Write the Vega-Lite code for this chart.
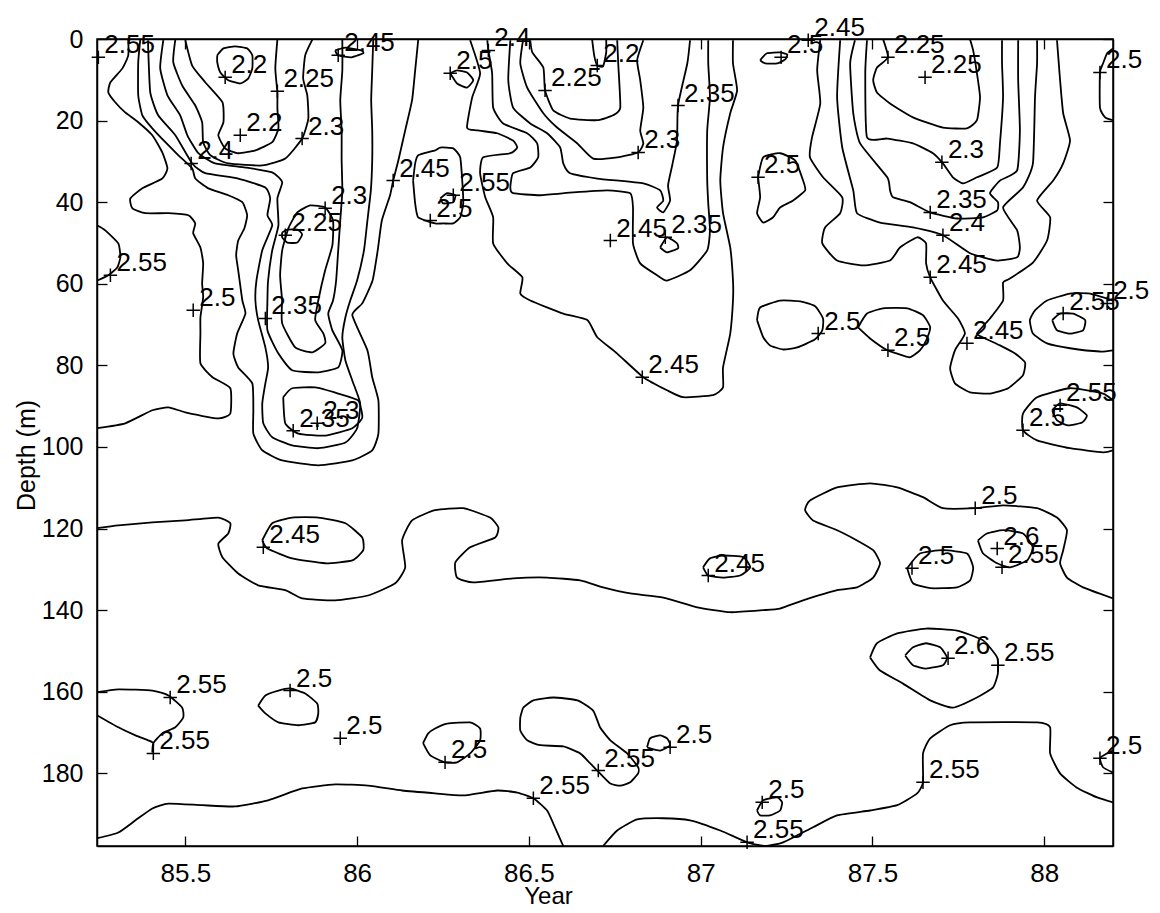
{
"$schema": "https://vega.github.io/schema/vega-lite/v6.json",
"autosize": "none",
"width": 1016, "height": 807,
"padding": {"left": 97, "top": 39, "right": 47, "bottom": 67},
"background": "white",
"config": {"view": {"stroke": "black", "strokeWidth": 1.5}, "font": "Liberation Sans"},
"datasets": {
"lines": [
{"c":"a1","x":85.334,"d":0.1},{"c":"a1","x":85.334,"d":4.0},{"c":"a1","x":85.317,"d":7.2},{"c":"a1","x":85.282,"d":10.6},{"c":"a1","x":85.276,"d":13.1},{"c":"a1","x":85.296,"d":15.5},{"c":"a1","x":85.325,"d":18.0},{"c":"a1","x":85.363,"d":20.4},{"c":"a1","x":85.404,"d":23.6},{"c":"a1","x":85.433,"d":27.8},{"c":"a1","x":85.448,"d":31.7},{"c":"a1","x":85.433,"d":34.2},{"c":"a1","x":85.375,"d":36.6},{"c":"a1","x":85.340,"d":39.1},{"c":"a1","x":85.346,"d":41.5},{"c":"a1","x":85.384,"d":42.7},{"c":"a1","x":85.451,"d":42.7},{"c":"a1","x":85.509,"d":43.2},{"c":"a1","x":85.529,"d":45.2},{"c":"a1","x":85.523,"d":47.6},{"c":"a1","x":85.544,"d":51.1},{"c":"a1","x":85.552,"d":55.0},{"c":"a1","x":85.549,"d":59.9},{"c":"a1","x":85.552,"d":63.3},{"c":"a1","x":85.544,"d":68.2},{"c":"a1","x":85.544,"d":72.2},{"c":"a1","x":85.544,"d":79.5},{"c":"a1","x":85.579,"d":82.9},{"c":"a1","x":85.631,"d":85.6},{"c":"a1","x":85.631,"d":91.8},{"c":"a1","x":85.596,"d":93.0},{"c":"a1","x":85.500,"d":91.5},{"c":"a1","x":85.451,"d":90.3},{"c":"a1","x":85.404,"d":91.0},{"c":"a1","x":85.325,"d":94.2},{"c":"a1","x":85.244,"d":95.4},
{"c":"a2","x":85.244,"d":45.7},{"c":"a2","x":85.267,"d":46.9},{"c":"a2","x":85.305,"d":50.1},{"c":"a2","x":85.311,"d":53.5},{"c":"a2","x":85.302,"d":56.0},{"c":"a2","x":85.276,"d":57.9},{"c":"a2","x":85.244,"d":59.2},
{"c":"a3","x":85.593,"d":4.0},{"c":"a3","x":85.611,"d":2.3},{"c":"a3","x":85.645,"d":1.8},{"c":"a3","x":85.680,"d":2.3},{"c":"a3","x":85.695,"d":4.0},{"c":"a3","x":85.695,"d":7.2},{"c":"a3","x":85.683,"d":9.7},{"c":"a3","x":85.660,"d":10.9},{"c":"a3","x":85.625,"d":10.1},{"c":"a3","x":85.602,"d":8.2},{"c":"a3","x":85.593,"d":5.7},{"c":"a3","x":85.593,"d":4.0},
{"c":"a4","x":85.500,"d":0.3},{"c":"a4","x":85.520,"d":6.5},{"c":"a4","x":85.558,"d":10.6},{"c":"a4","x":85.608,"d":15.5},{"c":"a4","x":85.611,"d":20.4},{"c":"a4","x":85.596,"d":23.6},{"c":"a4","x":85.616,"d":26.8},{"c":"a4","x":85.654,"d":28.0},{"c":"a4","x":85.704,"d":27.3},{"c":"a4","x":85.753,"d":25.3},{"c":"a4","x":85.771,"d":21.9},{"c":"a4","x":85.768,"d":17.0},{"c":"a4","x":85.768,"d":13.1},{"c":"a4","x":85.762,"d":7.2},{"c":"a4","x":85.768,"d":0.1},
{"c":"a5","x":85.471,"d":0.1},{"c":"a5","x":85.465,"d":5.7},{"c":"a5","x":85.491,"d":11.4},{"c":"a5","x":85.529,"d":16.3},{"c":"a5","x":85.549,"d":20.4},{"c":"a5","x":85.552,"d":25.3},{"c":"a5","x":85.573,"d":28.5},{"c":"a5","x":85.625,"d":30.5},{"c":"a5","x":85.724,"d":31.0},{"c":"a5","x":85.791,"d":29.3},{"c":"a5","x":85.840,"d":24.4},{"c":"a5","x":85.858,"d":19.5},{"c":"a5","x":85.855,"d":13.8},{"c":"a5","x":85.843,"d":9.7},{"c":"a5","x":85.849,"d":4.0},{"c":"a5","x":85.870,"d":0.1},
{"c":"a6","x":85.436,"d":0.3},{"c":"a6","x":85.427,"d":7.2},{"c":"a6","x":85.448,"d":13.8},{"c":"a6","x":85.485,"d":18.7},{"c":"a6","x":85.506,"d":23.6},{"c":"a6","x":85.538,"d":28.0},{"c":"a6","x":85.587,"d":30.5},{"c":"a6","x":85.675,"d":31.5},{"c":"a6","x":85.753,"d":32.7},{"c":"a6","x":85.782,"d":35.1},{"c":"a6","x":85.768,"d":39.1},{"c":"a6","x":85.771,"d":45.7},{"c":"a6","x":85.753,"d":51.8},{"c":"a6","x":85.741,"d":59.2},{"c":"a6","x":85.739,"d":64.1},{"c":"a6","x":85.739,"d":71.4},{"c":"a6","x":85.771,"d":77.1},{"c":"a6","x":85.811,"d":81.2},{"c":"a6","x":85.887,"d":81.7},{"c":"a6","x":85.945,"d":80.5},{"c":"a6","x":85.957,"d":76.3},{"c":"a6","x":85.928,"d":71.4},{"c":"a6","x":85.916,"d":67.3},{"c":"a6","x":85.930,"d":64.1},{"c":"a6","x":85.939,"d":59.2},{"c":"a6","x":85.945,"d":51.8},{"c":"a6","x":85.951,"d":44.5},{"c":"a6","x":85.957,"d":37.1},{"c":"a6","x":85.955,"d":29.8},{"c":"a6","x":85.955,"d":22.4},{"c":"a6","x":85.951,"d":15.0},{"c":"a6","x":85.957,"d":7.7},{"c":"a6","x":85.957,"d":0.1},
{"c":"a7","x":85.392,"d":0.3},{"c":"a7","x":85.392,"d":2.3},{"c":"a7","x":85.398,"d":13.1},{"c":"a7","x":85.421,"d":18.7},{"c":"a7","x":85.471,"d":23.6},{"c":"a7","x":85.520,"d":30.5},{"c":"a7","x":85.558,"d":32.9},{"c":"a7","x":85.654,"d":34.2},{"c":"a7","x":85.733,"d":36.4},{"c":"a7","x":85.747,"d":39.1},{"c":"a7","x":85.739,"d":43.2},{"c":"a7","x":85.753,"d":45.7},{"c":"a7","x":85.724,"d":51.8},{"c":"a7","x":85.707,"d":59.2},{"c":"a7","x":85.704,"d":64.1},{"c":"a7","x":85.712,"d":68.9},{"c":"a7","x":85.733,"d":75.6},{"c":"a7","x":85.741,"d":80.5},{"c":"a7","x":85.733,"d":84.4},{"c":"a7","x":85.724,"d":89.3},{"c":"a7","x":85.727,"d":94.2},{"c":"a7","x":85.753,"d":97.6},{"c":"a7","x":85.811,"d":99.6},{"c":"a7","x":85.887,"d":100.3},{"c":"a7","x":85.966,"d":98.9},{"c":"a7","x":86.000,"d":95.4},{"c":"a7","x":86.009,"d":89.3},{"c":"a7","x":85.986,"d":83.7},{"c":"a7","x":85.966,"d":78.8},{"c":"a7","x":85.957,"d":73.1},{"c":"a7","x":85.966,"d":68.2},{"c":"a7","x":85.980,"d":64.1},{"c":"a7","x":86.000,"d":59.2},{"c":"a7","x":86.020,"d":51.8},{"c":"a7","x":86.030,"d":44.5},{"c":"a7","x":86.040,"d":37.1},{"c":"a7","x":86.044,"d":29.8},{"c":"a7","x":86.044,"d":22.4},{"c":"a7","x":86.041,"d":15.0},{"c":"a7","x":86.044,"d":7.7},{"c":"a7","x":86.047,"d":0.1},
{"c":"a8","x":85.369,"d":0.1},{"c":"a8","x":85.363,"d":5.7},{"c":"a8","x":85.363,"d":13.8},{"c":"a8","x":85.375,"d":18.7},{"c":"a8","x":85.404,"d":21.9},{"c":"a8","x":85.442,"d":25.3},{"c":"a8","x":85.480,"d":28.5},{"c":"a8","x":85.520,"d":31.7},{"c":"a8","x":85.529,"d":34.2},{"c":"a8","x":85.567,"d":36.6},{"c":"a8","x":85.625,"d":38.3},{"c":"a8","x":85.666,"d":40.0},{"c":"a8","x":85.680,"d":43.2},{"c":"a8","x":85.672,"d":46.4},{"c":"a8","x":85.654,"d":49.4},{"c":"a8","x":85.648,"d":53.0},{"c":"a8","x":85.654,"d":56.7},{"c":"a8","x":85.666,"d":64.1},{"c":"a8","x":85.675,"d":67.3},{"c":"a8","x":85.651,"d":72.2},{"c":"a8","x":85.640,"d":77.1},{"c":"a8","x":85.654,"d":80.5},{"c":"a8","x":85.695,"d":84.4},{"c":"a8","x":85.698,"d":91.0},{"c":"a8","x":85.698,"d":96.7},{"c":"a8","x":85.724,"d":100.8},{"c":"a8","x":85.782,"d":103.3},{"c":"a8","x":85.887,"d":104.5},{"c":"a8","x":85.986,"d":103.3},{"c":"a8","x":86.044,"d":100.8},{"c":"a8","x":86.062,"d":96.7},{"c":"a8","x":86.062,"d":88.6},{"c":"a8","x":86.044,"d":82.9},{"c":"a8","x":86.030,"d":76.3},{"c":"a8","x":85.986,"d":67.7},{"c":"a8","x":86.015,"d":64.8},{"c":"a8","x":86.045,"d":59.2},{"c":"a8","x":86.060,"d":51.8},{"c":"a8","x":86.072,"d":44.5},{"c":"a8","x":86.096,"d":38.3},{"c":"a8","x":86.105,"d":34.7},{"c":"a8","x":86.120,"d":29.8},{"c":"a8","x":86.140,"d":22.4},{"c":"a8","x":86.160,"d":15.0},{"c":"a8","x":86.169,"d":7.7},{"c":"a8","x":86.178,"d":0.1},
{"c":"a9","x":85.782,"d":64.1},{"c":"a9","x":85.776,"d":57.9},{"c":"a9","x":85.782,"d":51.8},{"c":"a9","x":85.800,"d":46.4},{"c":"a9","x":85.826,"d":42.5},{"c":"a9","x":85.864,"d":40.8},{"c":"a9","x":85.907,"d":41.3},{"c":"a9","x":85.930,"d":44.5},{"c":"a9","x":85.928,"d":50.6},{"c":"a9","x":85.907,"d":56.7},{"c":"a9","x":85.887,"d":64.1},{"c":"a9","x":85.878,"d":68.9},{"c":"a9","x":85.902,"d":72.2},{"c":"a9","x":85.907,"d":74.6},{"c":"a9","x":85.870,"d":76.8},{"c":"a9","x":85.820,"d":75.6},{"c":"a9","x":85.782,"d":69.7},{"c":"a9","x":85.782,"d":64.1},
{"c":"a10","x":85.782,"d":47.4},{"c":"a10","x":85.797,"d":46.7},{"c":"a10","x":85.826,"d":46.7},{"c":"a10","x":85.840,"d":47.9},{"c":"a10","x":85.826,"d":49.9},{"c":"a10","x":85.797,"d":49.9},{"c":"a10","x":85.782,"d":48.6},{"c":"a10","x":85.782,"d":47.4},
{"c":"a11","x":85.785,"d":87.8},{"c":"a11","x":85.811,"d":85.6},{"c":"a11","x":85.878,"d":85.4},{"c":"a11","x":85.945,"d":86.9},{"c":"a11","x":86.003,"d":88.6},{"c":"a11","x":86.015,"d":92.8},{"c":"a11","x":85.986,"d":95.4},{"c":"a11","x":85.907,"d":97.2},{"c":"a11","x":85.829,"d":96.7},{"c":"a11","x":85.791,"d":94.2},{"c":"a11","x":85.785,"d":87.8},
{"c":"a12","x":85.936,"d":2.8},{"c":"a12","x":85.966,"d":2.1},{"c":"a12","x":86.012,"d":2.8},{"c":"a12","x":86.018,"d":3.5},{"c":"a12","x":85.983,"d":4.5},{"c":"a12","x":85.945,"d":4.0},{"c":"a12","x":85.936,"d":2.8},
{"c":"m1","x":86.329,"d":0.3},{"c":"m1","x":86.358,"d":8.4},{"c":"m1","x":86.335,"d":14.3},{"c":"m1","x":86.320,"d":21.7},{"c":"m1","x":86.350,"d":22.4},{"c":"m1","x":86.408,"d":23.1},{"c":"m1","x":86.454,"d":24.9},{"c":"m1","x":86.466,"d":26.6},{"c":"m1","x":86.446,"d":28.0},{"c":"m1","x":86.367,"d":29.0},{"c":"m1","x":86.358,"d":32.9},{"c":"m1","x":86.373,"d":38.8},{"c":"m1","x":86.396,"d":43.7},{"c":"m1","x":86.396,"d":50.1},{"c":"m1","x":86.437,"d":55.0},{"c":"m1","x":86.481,"d":58.4},{"c":"m1","x":86.475,"d":62.4},{"c":"m1","x":86.504,"d":64.1},{"c":"m1","x":86.600,"d":67.3},{"c":"m1","x":86.670,"d":68.9},{"c":"m1","x":86.699,"d":73.1},{"c":"m1","x":86.757,"d":77.1},{"c":"m1","x":86.833,"d":82.9},{"c":"m1","x":86.902,"d":86.1},{"c":"m1","x":86.949,"d":87.8},{"c":"m1","x":87.036,"d":87.3},{"c":"m1","x":87.065,"d":85.4},{"c":"m1","x":87.065,"d":80.5},{"c":"m1","x":87.086,"d":72.2},{"c":"m1","x":87.094,"d":64.1},{"c":"m1","x":87.094,"d":59.2},{"c":"m1","x":87.086,"d":51.1},{"c":"m1","x":87.065,"d":42.7},{"c":"m1","x":87.057,"d":34.7},{"c":"m1","x":87.065,"d":26.6},{"c":"m1","x":87.086,"d":18.2},{"c":"m1","x":87.106,"d":12.6},{"c":"m1","x":87.094,"d":6.0},{"c":"m1","x":87.094,"d":0.3},
{"c":"m2","x":86.379,"d":0.3},{"c":"m2","x":86.382,"d":2.8},{"c":"m2","x":86.393,"d":8.4},{"c":"m2","x":86.396,"d":16.8},{"c":"m2","x":86.425,"d":20.7},{"c":"m2","x":86.495,"d":23.1},{"c":"m2","x":86.524,"d":25.6},{"c":"m2","x":86.527,"d":29.0},{"c":"m2","x":86.504,"d":31.5},{"c":"m2","x":86.454,"d":32.9},{"c":"m2","x":86.446,"d":36.4},{"c":"m2","x":86.454,"d":37.8},{"c":"m2","x":86.533,"d":38.3},{"c":"m2","x":86.629,"d":37.6},{"c":"m2","x":86.728,"d":37.1},{"c":"m2","x":86.795,"d":37.8},{"c":"m2","x":86.803,"d":41.3},{"c":"m2","x":86.803,"d":50.1},{"c":"m2","x":86.824,"d":55.0},{"c":"m2","x":86.873,"d":57.9},{"c":"m2","x":86.902,"d":59.2},{"c":"m2","x":86.969,"d":56.7},{"c":"m2","x":87.019,"d":51.8},{"c":"m2","x":87.027,"d":46.9},{"c":"m2","x":87.022,"d":40.3},{"c":"m2","x":87.019,"d":34.7},{"c":"m2","x":87.019,"d":22.4},{"c":"m2","x":87.027,"d":14.3},{"c":"m2","x":87.022,"d":6.0},{"c":"m2","x":87.022,"d":0.3},
{"c":"m3","x":86.446,"d":0.3},{"c":"m3","x":86.440,"d":10.1},{"c":"m3","x":86.454,"d":16.8},{"c":"m3","x":86.504,"d":20.7},{"c":"m3","x":86.553,"d":23.1},{"c":"m3","x":86.591,"d":26.6},{"c":"m3","x":86.600,"d":30.5},{"c":"m3","x":86.620,"d":32.9},{"c":"m3","x":86.699,"d":34.2},{"c":"m3","x":86.833,"d":35.4},{"c":"m3","x":86.882,"d":37.1},{"c":"m3","x":86.891,"d":39.6},{"c":"m3","x":86.873,"d":41.3},{"c":"m3","x":86.891,"d":42.5},{"c":"m3","x":86.911,"d":39.6},{"c":"m3","x":86.905,"d":35.9},{"c":"m3","x":86.917,"d":31.0},{"c":"m3","x":86.931,"d":24.9},{"c":"m3","x":86.934,"d":16.3},{"c":"m3","x":86.961,"d":6.0},{"c":"m3","x":86.969,"d":0.3},
{"c":"m4","x":86.483,"d":0.3},{"c":"m4","x":86.475,"d":6.0},{"c":"m4","x":86.495,"d":11.9},{"c":"m4","x":86.542,"d":18.2},{"c":"m4","x":86.582,"d":21.7},{"c":"m4","x":86.641,"d":25.6},{"c":"m4","x":86.687,"d":29.3},{"c":"m4","x":86.757,"d":29.0},{"c":"m4","x":86.818,"d":27.8},{"c":"m4","x":86.833,"d":25.6},{"c":"m4","x":86.824,"d":22.4},{"c":"m4","x":86.833,"d":16.8},{"c":"m4","x":86.824,"d":10.1},{"c":"m4","x":86.815,"d":5.2},{"c":"m4","x":86.833,"d":0.3},
{"c":"m5","x":86.504,"d":0.3},{"c":"m5","x":86.510,"d":3.3},{"c":"m5","x":86.542,"d":7.0},{"c":"m5","x":86.547,"d":12.6},{"c":"m5","x":86.571,"d":17.5},{"c":"m5","x":86.620,"d":19.5},{"c":"m5","x":86.699,"d":19.9},{"c":"m5","x":86.745,"d":18.7},{"c":"m5","x":86.766,"d":16.8},{"c":"m5","x":86.760,"d":6.0},{"c":"m5","x":86.757,"d":0.3},
{"c":"m6","x":86.684,"d":0.1},{"c":"m6","x":86.690,"d":4.0},{"c":"m6","x":86.699,"d":6.5},{"c":"m6","x":86.716,"d":6.7},{"c":"m6","x":86.725,"d":3.3},{"c":"m6","x":86.725,"d":0.1},
{"c":"m7","x":86.882,"d":51.1},{"c":"m7","x":86.902,"d":48.6},{"c":"m7","x":86.931,"d":50.1},{"c":"m7","x":86.934,"d":51.3},{"c":"m7","x":86.902,"d":52.3},{"c":"m7","x":86.882,"d":51.1},
{"c":"m8","x":86.271,"d":8.4},{"c":"m8","x":86.291,"d":7.7},{"c":"m8","x":86.320,"d":8.2},{"c":"m8","x":86.338,"d":10.1},{"c":"m8","x":86.320,"d":11.9},{"c":"m8","x":86.291,"d":10.9},{"c":"m8","x":86.271,"d":8.4},
{"c":"m9","x":86.163,"d":34.7},{"c":"m9","x":86.169,"d":30.5},{"c":"m9","x":86.178,"d":28.5},{"c":"m9","x":86.227,"d":27.3},{"c":"m9","x":86.242,"d":26.6},{"c":"m9","x":86.280,"d":26.8},{"c":"m9","x":86.300,"d":29.0},{"c":"m9","x":86.306,"d":34.7},{"c":"m9","x":86.309,"d":40.3},{"c":"m9","x":86.300,"d":43.7},{"c":"m9","x":86.280,"d":45.2},{"c":"m9","x":86.251,"d":45.2},{"c":"m9","x":86.227,"d":45.2},{"c":"m9","x":86.178,"d":43.7},{"c":"m9","x":86.169,"d":40.3},{"c":"m9","x":86.163,"d":34.7},
{"c":"m10","x":86.242,"d":39.1},{"c":"m10","x":86.262,"d":37.8},{"c":"m10","x":86.286,"d":38.3},{"c":"m10","x":86.280,"d":40.0},{"c":"m10","x":86.251,"d":40.3},{"c":"m10","x":86.242,"d":39.1},
{"c":"r1","x":87.531,"d":0.1},{"c":"r1","x":87.545,"d":4.5},{"c":"r1","x":87.513,"d":7.0},{"c":"r1","x":87.502,"d":10.1},{"c":"r1","x":87.513,"d":13.1},{"c":"r1","x":87.551,"d":15.8},{"c":"r1","x":87.618,"d":19.2},{"c":"r1","x":87.705,"d":21.7},{"c":"r1","x":87.775,"d":21.9},{"c":"r1","x":87.804,"d":19.9},{"c":"r1","x":87.813,"d":14.3},{"c":"r1","x":87.804,"d":8.4},{"c":"r1","x":87.793,"d":2.8},{"c":"r1","x":87.784,"d":0.1},
{"c":"r2","x":87.484,"d":0.3},{"c":"r2","x":87.479,"d":8.4},{"c":"r2","x":87.484,"d":24.1},{"c":"r2","x":87.543,"d":24.4},{"c":"r2","x":87.618,"d":25.6},{"c":"r2","x":87.676,"d":28.0},{"c":"r2","x":87.705,"d":30.5},{"c":"r2","x":87.734,"d":33.9},{"c":"r2","x":87.764,"d":35.4},{"c":"r2","x":87.804,"d":33.9},{"c":"r2","x":87.863,"d":31.5},{"c":"r2","x":87.871,"d":25.6},{"c":"r2","x":87.880,"d":14.3},{"c":"r2","x":87.877,"d":6.0},{"c":"r2","x":87.877,"d":0.3},
{"c":"r3","x":87.449,"d":0.3},{"c":"r3","x":87.435,"d":6.0},{"c":"r3","x":87.444,"d":18.2},{"c":"r3","x":87.464,"d":25.6},{"c":"r3","x":87.543,"d":33.9},{"c":"r3","x":87.551,"d":37.1},{"c":"r3","x":87.560,"d":38.8},{"c":"r3","x":87.609,"d":40.0},{"c":"r3","x":87.668,"d":42.5},{"c":"r3","x":87.746,"d":44.0},{"c":"r3","x":87.822,"d":43.7},{"c":"r3","x":87.863,"d":42.0},{"c":"r3","x":87.865,"d":40.0},{"c":"r3","x":87.842,"d":37.8},{"c":"r3","x":87.871,"d":34.7},{"c":"r3","x":87.921,"d":32.2},{"c":"r3","x":87.929,"d":22.4},{"c":"r3","x":87.924,"d":10.1},{"c":"r3","x":87.924,"d":0.3},
{"c":"r4","x":87.406,"d":0.3},{"c":"r4","x":87.397,"d":14.3},{"c":"r4","x":87.412,"d":26.6},{"c":"r4","x":87.444,"d":37.1},{"c":"r4","x":87.455,"d":42.7},{"c":"r4","x":87.522,"d":45.0},{"c":"r4","x":87.618,"d":46.2},{"c":"r4","x":87.705,"d":48.1},{"c":"r4","x":87.784,"d":52.5},{"c":"r4","x":87.863,"d":54.3},{"c":"r4","x":87.921,"d":53.5},{"c":"r4","x":87.929,"d":51.1},{"c":"r4","x":87.921,"d":46.9},{"c":"r4","x":87.880,"d":41.3},{"c":"r4","x":87.938,"d":36.4},{"c":"r4","x":87.967,"d":30.5},{"c":"r4","x":87.973,"d":14.3},{"c":"r4","x":87.979,"d":6.0},{"c":"r4","x":87.979,"d":0.3},
{"c":"r5","x":87.348,"d":0.3},{"c":"r5","x":87.339,"d":7.7},{"c":"r5","x":87.348,"d":15.8},{"c":"r5","x":87.324,"d":24.1},{"c":"r5","x":87.318,"d":29.0},{"c":"r5","x":87.356,"d":33.9},{"c":"r5","x":87.412,"d":38.8},{"c":"r5","x":87.406,"d":42.7},{"c":"r5","x":87.362,"d":46.2},{"c":"r5","x":87.354,"d":50.1},{"c":"r5","x":87.397,"d":54.3},{"c":"r5","x":87.473,"d":55.5},{"c":"r5","x":87.551,"d":54.3},{"c":"r5","x":87.580,"d":51.1},{"c":"r5","x":87.630,"d":48.6},{"c":"r5","x":87.656,"d":50.1},{"c":"r5","x":87.656,"d":55.0},{"c":"r5","x":87.668,"d":58.4},{"c":"r5","x":87.705,"d":64.1},{"c":"r5","x":87.749,"d":68.5},{"c":"r5","x":87.769,"d":72.2},{"c":"r5","x":87.740,"d":76.3},{"c":"r5","x":87.726,"d":80.7},{"c":"r5","x":87.740,"d":84.4},{"c":"r5","x":87.784,"d":86.6},{"c":"r5","x":87.842,"d":86.9},{"c":"r5","x":87.895,"d":85.6},{"c":"r5","x":87.938,"d":82.4},{"c":"r5","x":87.944,"d":79.3},{"c":"r5","x":87.915,"d":77.1},{"c":"r5","x":87.871,"d":75.1},{"c":"r5","x":87.828,"d":73.4},{"c":"r5","x":87.804,"d":72.2},{"c":"r5","x":87.842,"d":68.5},{"c":"r5","x":87.880,"d":64.1},{"c":"r5","x":87.880,"d":59.7},{"c":"r5","x":87.900,"d":58.7},{"c":"r5","x":87.967,"d":54.8},{"c":"r5","x":88.008,"d":49.4},{"c":"r5","x":88.017,"d":43.7},{"c":"r5","x":87.979,"d":39.6},{"c":"r5","x":88.026,"d":34.7},{"c":"r5","x":88.055,"d":30.5},{"c":"r5","x":88.075,"d":24.9},{"c":"r5","x":88.055,"d":18.2},{"c":"r5","x":88.046,"d":10.1},{"c":"r5","x":88.037,"d":0.3},
{"c":"b1","x":85.244,"d":119.9},{"c":"b1","x":85.305,"d":119.2},{"c":"b1","x":85.404,"d":118.5},{"c":"b1","x":85.500,"d":118.0},{"c":"b1","x":85.596,"d":117.3},{"c":"b1","x":85.631,"d":118.7},{"c":"b1","x":85.625,"d":121.2},{"c":"b1","x":85.596,"d":123.7},{"c":"b1","x":85.608,"d":127.0},{"c":"b1","x":85.654,"d":131.0},{"c":"b1","x":85.712,"d":133.9},{"c":"b1","x":85.791,"d":135.1},{"c":"b1","x":85.840,"d":137.1},{"c":"b1","x":85.936,"d":137.6},{"c":"b1","x":86.032,"d":136.4},{"c":"b1","x":86.111,"d":133.4},{"c":"b1","x":86.140,"d":129.5},{"c":"b1","x":86.131,"d":122.9},{"c":"b1","x":86.160,"d":118.0},{"c":"b1","x":86.227,"d":115.5},{"c":"b1","x":86.309,"d":115.0},{"c":"b1","x":86.387,"d":117.3},{"c":"b1","x":86.411,"d":119.7},{"c":"b1","x":86.402,"d":122.2},{"c":"b1","x":86.329,"d":124.6},{"c":"b1","x":86.286,"d":128.3},{"c":"b1","x":86.291,"d":132.0},{"c":"b1","x":86.338,"d":133.2},{"c":"b1","x":86.454,"d":132.2},{"c":"b1","x":86.553,"d":132.0},{"c":"b1","x":86.649,"d":132.7},{"c":"b1","x":86.716,"d":134.4},{"c":"b1","x":86.795,"d":135.9},{"c":"b1","x":86.891,"d":136.9},{"c":"b1","x":86.990,"d":139.3},{"c":"b1","x":87.086,"d":140.5},{"c":"b1","x":87.182,"d":140.0},{"c":"b1","x":87.231,"d":139.6},{"c":"b1","x":87.298,"d":137.6},{"c":"b1","x":87.397,"d":135.1},{"c":"b1","x":87.455,"d":134.4},{"c":"b1","x":87.502,"d":132.0},{"c":"b1","x":87.522,"d":128.5},{"c":"b1","x":87.502,"d":125.3},{"c":"b1","x":87.455,"d":122.9},{"c":"b1","x":87.397,"d":120.4},{"c":"b1","x":87.327,"d":118.0},{"c":"b1","x":87.304,"d":115.5},{"c":"b1","x":87.318,"d":113.1},{"c":"b1","x":87.397,"d":109.9},{"c":"b1","x":87.493,"d":108.9},{"c":"b1","x":87.572,"d":109.9},{"c":"b1","x":87.647,"d":112.3},{"c":"b1","x":87.705,"d":115.0},{"c":"b1","x":87.799,"d":115.0},{"c":"b1","x":87.880,"d":114.3},{"c":"b1","x":87.979,"d":115.0},{"c":"b1","x":88.037,"d":117.3},{"c":"b1","x":88.066,"d":120.4},{"c":"b1","x":88.055,"d":125.3},{"c":"b1","x":88.046,"d":128.5},{"c":"b1","x":88.066,"d":132.0},{"c":"b1","x":88.113,"d":134.4},{"c":"b1","x":88.200,"d":137.1},
{"c":"b2","x":85.244,"d":195.9},{"c":"b2","x":85.305,"d":194.5},{"c":"b2","x":85.355,"d":191.5},{"c":"b2","x":85.404,"d":188.6},{"c":"b2","x":85.451,"d":187.4},{"c":"b2","x":85.549,"d":187.8},{"c":"b2","x":85.645,"d":188.1},{"c":"b2","x":85.741,"d":186.6},{"c":"b2","x":85.840,"d":183.7},{"c":"b2","x":85.936,"d":182.7},{"c":"b2","x":86.032,"d":183.0},{"c":"b2","x":86.131,"d":184.2},{"c":"b2","x":86.227,"d":184.9},{"c":"b2","x":86.309,"d":185.4},{"c":"b2","x":86.408,"d":184.2},{"c":"b2","x":86.466,"d":184.7},{"c":"b2","x":86.513,"d":186.1},{"c":"b2","x":86.553,"d":189.1},{"c":"b2","x":86.571,"d":192.3},{"c":"b2","x":86.600,"d":197.8},
{"c":"b3","x":86.716,"d":197.8},{"c":"b3","x":86.757,"d":194.0},{"c":"b3","x":86.815,"d":191.3},{"c":"b3","x":86.891,"d":191.0},{"c":"b3","x":86.969,"d":191.5},{"c":"b3","x":87.057,"d":194.0},{"c":"b3","x":87.135,"d":196.9},{"c":"b3","x":87.188,"d":197.8},{"c":"b3","x":87.240,"d":196.9},{"c":"b3","x":87.327,"d":193.2},{"c":"b3","x":87.397,"d":190.3},{"c":"b3","x":87.493,"d":189.1},{"c":"b3","x":87.572,"d":187.8},{"c":"b3","x":87.630,"d":184.9},{"c":"b3","x":87.647,"d":182.2},{"c":"b3","x":87.647,"d":175.1},{"c":"b3","x":87.668,"d":171.4},{"c":"b3","x":87.726,"d":168.2},{"c":"b3","x":87.784,"d":167.5},{"c":"b3","x":87.979,"d":167.5},{"c":"b3","x":88.017,"d":168.7},{"c":"b3","x":88.017,"d":175.1},{"c":"b3","x":88.046,"d":180.0},{"c":"b3","x":88.095,"d":183.5},{"c":"b3","x":88.154,"d":185.9},{"c":"b3","x":88.200,"d":187.1},
{"c":"l1","x":85.244,"d":160.1},{"c":"l1","x":85.305,"d":159.4},{"c":"l1","x":85.404,"d":159.7},{"c":"l1","x":85.451,"d":160.9},{"c":"l1","x":85.491,"d":163.9},{"c":"l1","x":85.494,"d":166.3},{"c":"l1","x":85.471,"d":168.7},{"c":"l1","x":85.433,"d":170.2},{"c":"l1","x":85.407,"d":172.6},{"c":"l1","x":85.404,"d":174.9},{"c":"l1","x":85.407,"d":172.6},{"c":"l1","x":85.392,"d":171.9},{"c":"l1","x":85.355,"d":170.7},{"c":"l1","x":85.305,"d":168.7},{"c":"l1","x":85.244,"d":165.8},
{"c":"l2","x":85.712,"d":163.4},{"c":"l2","x":85.733,"d":160.9},{"c":"l2","x":85.771,"d":159.7},{"c":"l2","x":85.805,"d":159.2},{"c":"l2","x":85.849,"d":160.4},{"c":"l2","x":85.884,"d":162.9},{"c":"l2","x":85.887,"d":165.3},{"c":"l2","x":85.878,"d":167.5},{"c":"l2","x":85.829,"d":168.2},{"c":"l2","x":85.771,"d":167.5},{"c":"l2","x":85.733,"d":165.3},{"c":"l2","x":85.712,"d":163.4},
{"c":"l3","x":86.192,"d":172.6},{"c":"l3","x":86.207,"d":170.2},{"c":"l3","x":86.227,"d":169.0},{"c":"l3","x":86.262,"d":167.8},{"c":"l3","x":86.329,"d":167.5},{"c":"l3","x":86.358,"d":169.0},{"c":"l3","x":86.358,"d":171.9},{"c":"l3","x":86.329,"d":175.1},{"c":"l3","x":86.291,"d":177.3},{"c":"l3","x":86.256,"d":177.3},{"c":"l3","x":86.213,"d":175.6},{"c":"l3","x":86.192,"d":172.6},
{"c":"l4","x":86.483,"d":163.9},{"c":"l4","x":86.513,"d":162.1},{"c":"l4","x":86.571,"d":161.4},{"c":"l4","x":86.641,"d":162.1},{"c":"l4","x":86.687,"d":164.6},{"c":"l4","x":86.707,"d":168.7},{"c":"l4","x":86.737,"d":171.9},{"c":"l4","x":86.786,"d":175.1},{"c":"l4","x":86.818,"d":178.5},{"c":"l4","x":86.818,"d":180.0},{"c":"l4","x":86.795,"d":182.2},{"c":"l4","x":86.766,"d":183.0},{"c":"l4","x":86.737,"d":182.5},{"c":"l4","x":86.707,"d":180.0},{"c":"l4","x":86.678,"d":177.5},{"c":"l4","x":86.649,"d":175.1},{"c":"l4","x":86.600,"d":173.4},{"c":"l4","x":86.533,"d":173.1},{"c":"l4","x":86.495,"d":171.9},{"c":"l4","x":86.475,"d":169.5},{"c":"l4","x":86.475,"d":166.3},{"c":"l4","x":86.483,"d":163.9},
{"c":"l5","x":86.844,"d":173.6},{"c":"l5","x":86.853,"d":171.4},{"c":"l5","x":86.882,"d":170.7},{"c":"l5","x":86.902,"d":171.4},{"c":"l5","x":86.911,"d":173.1},{"c":"l5","x":86.882,"d":174.4},{"c":"l5","x":86.844,"d":173.6},
{"c":"l6","x":87.164,"d":189.1},{"c":"l6","x":87.182,"d":186.6},{"c":"l6","x":87.223,"d":185.9},{"c":"l6","x":87.237,"d":187.1},{"c":"l6","x":87.231,"d":189.1},{"c":"l6","x":87.202,"d":190.3},{"c":"l6","x":87.173,"d":190.3},{"c":"l6","x":87.164,"d":189.1},
{"c":"p1","x":87.493,"d":151.6},{"c":"p1","x":87.513,"d":148.1},{"c":"p1","x":87.572,"d":145.7},{"c":"p1","x":87.656,"d":144.5},{"c":"p1","x":87.746,"d":145.0},{"c":"p1","x":87.822,"d":147.4},{"c":"p1","x":87.863,"d":151.6},{"c":"p1","x":87.865,"d":155.5},{"c":"p1","x":87.851,"d":158.9},{"c":"p1","x":87.804,"d":161.4},{"c":"p1","x":87.734,"d":163.9},{"c":"p1","x":87.668,"d":162.1},{"c":"p1","x":87.589,"d":158.0},{"c":"p1","x":87.522,"d":154.8},{"c":"p1","x":87.493,"d":151.6},
{"c":"p2","x":87.595,"d":151.1},{"c":"p2","x":87.618,"d":149.1},{"c":"p2","x":87.656,"d":148.1},{"c":"p2","x":87.697,"d":149.1},{"c":"p2","x":87.717,"d":151.6},{"c":"p2","x":87.705,"d":153.5},{"c":"p2","x":87.656,"d":154.3},{"c":"p2","x":87.618,"d":153.5},{"c":"p2","x":87.595,"d":151.1},
{"c":"rs","x":88.200,"d":174.4},{"c":"rs","x":88.183,"d":175.1},{"c":"rs","x":88.162,"d":176.3},{"c":"rs","x":88.171,"d":178.5},{"c":"rs","x":88.200,"d":179.8},
{"c":"f1","x":87.007,"d":129.5},{"c":"f1","x":87.027,"d":127.3},{"c":"f1","x":87.065,"d":126.6},{"c":"f1","x":87.124,"d":127.0},{"c":"f1","x":87.144,"d":129.5},{"c":"f1","x":87.115,"d":131.5},{"c":"f1","x":87.065,"d":132.0},{"c":"f1","x":87.022,"d":131.5},{"c":"f1","x":87.007,"d":129.5},
{"c":"g1","x":85.724,"d":122.9},{"c":"g1","x":85.753,"d":118.7},{"c":"g1","x":85.811,"d":117.3},{"c":"g1","x":85.887,"d":117.3},{"c":"g1","x":85.966,"d":118.7},{"c":"g1","x":86.015,"d":122.2},{"c":"g1","x":86.018,"d":125.3},{"c":"g1","x":85.986,"d":127.8},{"c":"g1","x":85.907,"d":128.5},{"c":"g1","x":85.811,"d":127.3},{"c":"g1","x":85.739,"d":124.9},{"c":"g1","x":85.724,"d":122.9},
{"c":"h1","x":87.601,"d":129.7},{"c":"h1","x":87.638,"d":126.1},{"c":"h1","x":87.705,"d":125.3},{"c":"h1","x":87.775,"d":126.1},{"c":"h1","x":87.793,"d":129.5},{"c":"h1","x":87.784,"d":132.7},{"c":"h1","x":87.746,"d":134.4},{"c":"h1","x":87.668,"d":134.6},{"c":"h1","x":87.618,"d":133.4},{"c":"h1","x":87.601,"d":129.7},
{"c":"i1","x":87.807,"d":122.9},{"c":"i1","x":87.833,"d":121.2},{"c":"i1","x":87.880,"d":120.4},{"c":"i1","x":87.938,"d":121.2},{"c":"i1","x":87.967,"d":124.6},{"c":"i1","x":87.950,"d":127.8},{"c":"i1","x":87.900,"d":129.5},{"c":"i1","x":87.863,"d":128.5},{"c":"i1","x":87.822,"d":126.1},{"c":"i1","x":87.807,"d":122.9},
{"c":"e1","x":88.200,"d":64.1},{"c":"e1","x":88.133,"d":62.4},{"c":"e1","x":88.075,"d":62.4},{"c":"e1","x":88.008,"d":64.1},{"c":"e1","x":87.973,"d":66.5},{"c":"e1","x":87.958,"d":68.9},{"c":"e1","x":87.967,"d":72.2},{"c":"e1","x":88.008,"d":74.6},{"c":"e1","x":88.075,"d":75.8},{"c":"e1","x":88.162,"d":76.6},{"c":"e1","x":88.200,"d":76.3},
{"c":"e2","x":88.023,"d":68.9},{"c":"e2","x":88.046,"d":67.3},{"c":"e2","x":88.084,"d":67.3},{"c":"e2","x":88.119,"d":68.9},{"c":"e2","x":88.113,"d":71.4},{"c":"e2","x":88.075,"d":72.2},{"c":"e2","x":88.037,"d":71.4},{"c":"e2","x":88.023,"d":68.9},
{"c":"e3","x":88.200,"d":88.6},{"c":"e3","x":88.171,"d":86.9},{"c":"e3","x":88.075,"d":85.6},{"c":"e3","x":87.979,"d":87.8},{"c":"e3","x":87.938,"d":91.8},{"c":"e3","x":87.938,"d":95.9},{"c":"e3","x":87.979,"d":98.4},{"c":"e3","x":88.075,"d":100.3},{"c":"e3","x":88.171,"d":101.3},{"c":"e3","x":88.200,"d":100.8},
{"c":"e4","x":88.023,"d":91.0},{"c":"e4","x":88.046,"d":89.3},{"c":"e4","x":88.095,"d":90.3},{"c":"e4","x":88.124,"d":92.3},{"c":"e4","x":88.110,"d":94.0},{"c":"e4","x":88.069,"d":94.7},{"c":"e4","x":88.037,"d":93.5},{"c":"e4","x":88.023,"d":91.0},
{"c":"rt","x":88.200,"d":2.3},{"c":"rt","x":88.183,"d":3.5},{"c":"rt","x":88.171,"d":6.0},{"c":"rt","x":88.162,"d":8.2},{"c":"rt","x":88.162,"d":16.8},{"c":"rt","x":88.177,"d":19.2},{"c":"rt","x":88.200,"d":19.9},
{"c":"j1","x":87.167,"d":33.9},{"c":"j1","x":87.182,"d":29.0},{"c":"j1","x":87.231,"d":28.0},{"c":"j1","x":87.275,"d":29.8},{"c":"j1","x":87.298,"d":34.7},{"c":"j1","x":87.304,"d":37.1},{"c":"j1","x":87.269,"d":39.6},{"c":"j1","x":87.231,"d":41.3},{"c":"j1","x":87.211,"d":43.7},{"c":"j1","x":87.182,"d":45.0},{"c":"j1","x":87.164,"d":42.7},{"c":"j1","x":87.173,"d":38.8},{"c":"j1","x":87.167,"d":33.9},
{"c":"k1","x":87.164,"d":68.9},{"c":"k1","x":87.173,"d":65.8},{"c":"k1","x":87.231,"d":64.1},{"c":"k1","x":87.290,"d":64.3},{"c":"k1","x":87.333,"d":65.5},{"c":"k1","x":87.356,"d":68.5},{"c":"k1","x":87.354,"d":71.4},{"c":"k1","x":87.333,"d":73.6},{"c":"k1","x":87.281,"d":75.6},{"c":"k1","x":87.240,"d":76.1},{"c":"k1","x":87.202,"d":75.1},{"c":"k1","x":87.182,"d":73.1},{"c":"k1","x":87.164,"d":68.9},
{"c":"n1","x":87.458,"d":70.7},{"c":"n1","x":87.484,"d":67.3},{"c":"n1","x":87.531,"d":66.0},{"c":"n1","x":87.601,"d":66.0},{"c":"n1","x":87.647,"d":67.7},{"c":"n1","x":87.668,"d":70.7},{"c":"n1","x":87.656,"d":73.9},{"c":"n1","x":87.638,"d":76.3},{"c":"n1","x":87.609,"d":78.0},{"c":"n1","x":87.572,"d":77.1},{"c":"n1","x":87.543,"d":76.3},{"c":"n1","x":87.493,"d":73.4},{"c":"n1","x":87.458,"d":70.7},
{"c":"q1","x":87.173,"d":5.2},{"c":"q1","x":87.193,"d":3.5},{"c":"q1","x":87.231,"d":3.3},{"c":"q1","x":87.252,"d":3.8},{"c":"q1","x":87.246,"d":5.0},{"c":"q1","x":87.223,"d":6.0},{"c":"q1","x":87.188,"d":6.0},{"c":"q1","x":87.173,"d":5.2}
],
"marks": [
{"x":85.247,"d":4.5,"t":"2.55"},{"x":85.616,"d":9.4,"t":"2.2"},{"x":85.768,"d":12.8,"t":"2.25"},{"x":85.660,"d":23.6,"t":"2.2"},{"x":85.840,"d":24.4,"t":"2.3"},{"x":85.945,"d":4.0,"t":"2.45"},{"x":85.517,"d":30.5,"t":"2.4"},{"x":86.105,"d":34.7,"t":"2.45"},{"x":85.907,"d":41.5,"t":"2.3"},{"x":85.791,"d":48.1,"t":"2.25"},{"x":86.280,"d":38.3,"t":"2.55"},{"x":86.213,"d":44.5,"t":"2.5"},{"x":85.282,"d":57.9,"t":"2.55"},{"x":85.523,"d":66.5,"t":"2.5"},{"x":85.733,"d":68.5,"t":"2.35"},{"x":85.814,"d":96.0,"t":"2.35"},{"x":85.884,"d":94.2,"t":"2.3"},{"x":85.727,"d":124.6,"t":"2.45"},{"x":85.456,"d":161.4,"t":"2.55"},{"x":85.407,"d":175.1,"t":"2.55"},{"x":85.805,"d":159.7,"t":"2.5"},{"x":85.951,"d":171.4,"t":"2.5"},{"x":86.256,"d":177.3,"t":"2.5"},{"x":86.513,"d":186.1,"t":"2.55"},{"x":86.702,"d":179.3,"t":"2.55"},{"x":86.911,"d":173.6,"t":"2.5"},{"x":87.135,"d":196.9,"t":"2.55"},{"x":87.179,"d":187.1,"t":"2.5"},{"x":87.647,"d":182.2,"t":"2.55"},{"x":87.720,"d":151.8,"t":"2.6"},{"x":87.865,"d":153.5,"t":"2.55"},{"x":88.162,"d":176.3,"t":"2.5"},{"x":87.022,"d":131.5,"t":"2.45"},{"x":87.615,"d":129.7,"t":"2.5"},{"x":87.863,"d":124.9,"t":"2.6"},{"x":87.877,"d":129.5,"t":"2.55"},{"x":87.799,"d":115.0,"t":"2.5"},{"x":87.938,"d":95.9,"t":"2.5"},{"x":88.046,"d":89.8,"t":"2.55"},{"x":88.055,"d":67.3,"t":"2.55"},{"x":88.183,"d":64.8,"t":"2.5"},{"x":87.775,"d":74.6,"t":"2.45"},{"x":87.545,"d":76.3,"t":"2.5"},{"x":87.342,"d":72.2,"t":"2.5"},{"x":86.830,"d":82.9,"t":"2.45"},{"x":86.737,"d":49.4,"t":"2.45"},{"x":86.897,"d":48.6,"t":"2.35"},{"x":86.818,"d":27.8,"t":"2.3"},{"x":86.934,"d":16.3,"t":"2.35"},{"x":86.547,"d":12.6,"t":"2.25"},{"x":86.699,"d":6.5,"t":"2.2"},{"x":86.382,"d":2.8,"t":"2.4"},{"x":86.271,"d":8.4,"t":"2.5"},{"x":87.167,"d":33.9,"t":"2.5"},{"x":87.234,"d":4.5,"t":"2.5"},{"x":87.313,"d":0.3,"t":"2.45"},{"x":87.545,"d":4.5,"t":"2.25"},{"x":87.653,"d":9.4,"t":"2.25"},{"x":87.702,"d":30.2,"t":"2.3"},{"x":87.668,"d":42.5,"t":"2.35"},{"x":87.705,"d":48.1,"t":"2.4"},{"x":87.668,"d":58.4,"t":"2.45"},{"x":88.162,"d":8.2,"t":"2.5"}
]
},
"layer": [
{
"data": {"name": "lines"},
"mark": {"type": "line", "color": "black", "strokeWidth": 1.8, "clip": true, "interpolate": "cardinal", "tension": 0.5},
"encoding": {
"x": {"field": "x", "type": "quantitative", "scale": {"domain": [85.243, 88.2], "nice": false, "zero": false},
"axis": {"orient": "bottom", "values": [85.5, 86, 86.5, 87, 87.5, 88], "format": "~g", "title": "Year", "titleX": 451, "titleY": 57, "titleBaseline": "alphabetic", "grid": false, "domainColor": "black", "domainWidth": 1.5, "tickColor": "black", "tickSize": -10, "tickWidth": 1.3, "labelPadding": 24, "labelFontSize": 26, "labelColor": "black", "labelFont": "Liberation Sans", "titleFontSize": 24, "titleFont": "Liberation Sans", "titleFontWeight": "normal", "titleColor": "black"}},
"y": {"field": "d", "type": "quantitative", "scale": {"domain": [0, 197.8], "nice": false, "zero": false, "reverse": true},
"axis": {"orient": "left", "values": [0, 20, 40, 60, 80, 100, 120, 140, 160, 180], "title": "Depth (m)", "titleX": -63, "titleY": 416, "titleAngle": -90, "titleBaseline": "alphabetic", "grid": false, "domainColor": "black", "domainWidth": 1.5, "tickColor": "black", "tickSize": -10, "tickWidth": 1.3, "labelPadding": 24, "labelFontSize": 25, "labelColor": "black", "labelFont": "Liberation Sans", "titleFontSize": 25, "titleFont": "Liberation Sans", "titleFontWeight": "normal", "titleColor": "black"}},
"detail": {"field": "c"},
"order": {"value": null}
}
},
{
"data": {"name": "marks"},
"mark": {"type": "point", "shape": "M-1,0L1,0M0,-1L0,1", "size": 180, "filled": false, "stroke": "black", "strokeWidth": 1.5, "opacity": 1},
"encoding": {
"x": {"field": "x", "type": "quantitative", "axis": {"orient": "top", "values": [85.5, 86, 86.5, 87, 87.5, 88], "labels": false, "title": null, "grid": false, "domainColor": "black", "domainWidth": 1.5, "tickColor": "black", "tickSize": -10, "tickWidth": 1.3}},
"y": {"field": "d", "type": "quantitative", "axis": {"orient": "right", "values": [0, 20, 40, 60, 80, 100, 120, 140, 160, 180], "labels": false, "title": null, "grid": false, "domainColor": "black", "domainWidth": 1.5, "tickColor": "black", "tickSize": -10, "tickWidth": 1.3}}
}
},
{
"data": {"name": "marks"},
"mark": {"type": "text", "align": "left", "baseline": "alphabetic", "dx": 6, "dy": -4, "fontSize": 26, "font": "Liberation Sans", "color": "black"},
"encoding": {
"x": {"field": "x", "type": "quantitative", "axis": null},
"y": {"field": "d", "type": "quantitative", "axis": null},
"text": {"field": "t"}
}
}
],
"resolve": {"axis": {"x": "independent", "y": "independent"}}
}
